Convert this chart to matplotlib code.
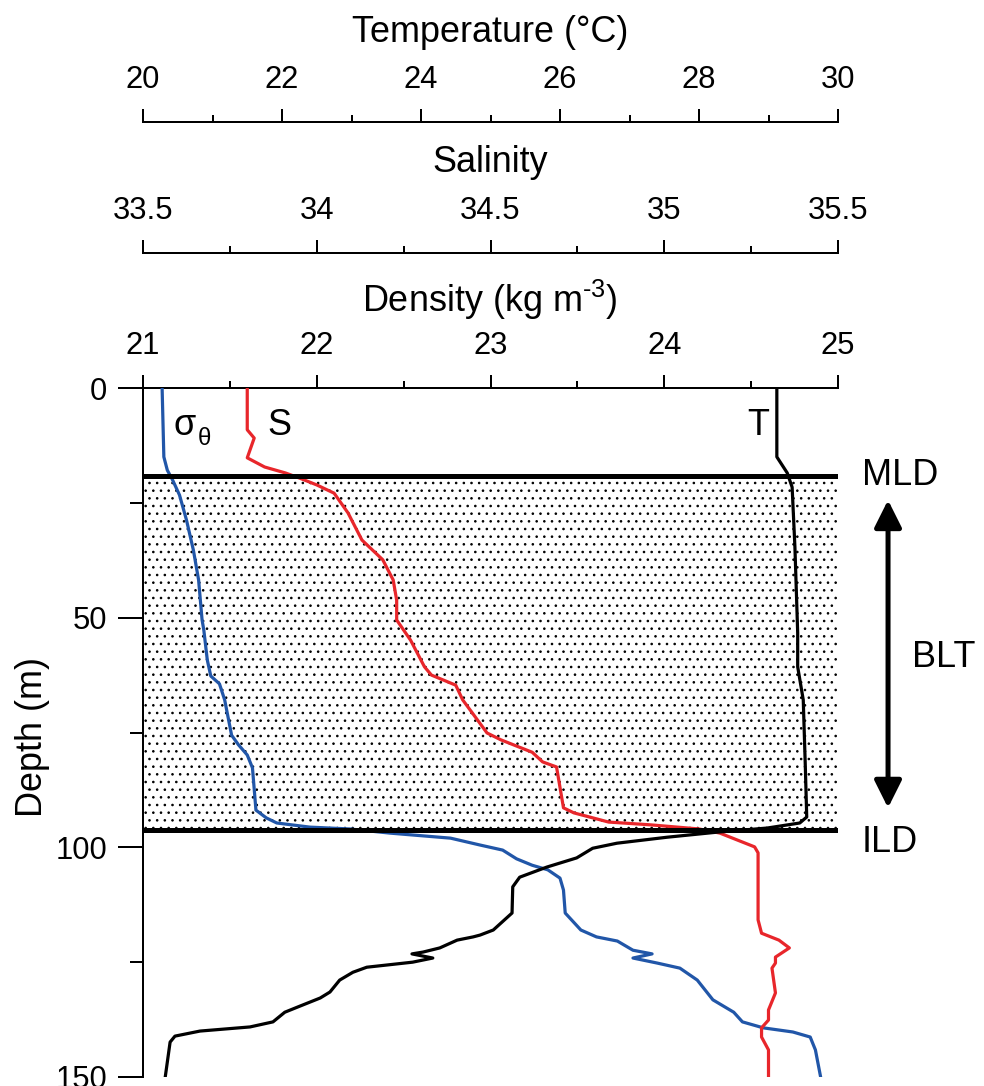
import matplotlib
matplotlib.use('Agg')
import matplotlib.pyplot as plt
from matplotlib.ticker import FixedLocator, FixedFormatter

DPI = 92
W_PX, H_PX = 984, 1086


def pt(px):
    return px * 72.0 / DPI


plt.rcParams['font.family'] = ['Liberation Sans', 'DejaVu Sans']
plt.rcParams['mathtext.fontset'] = 'custom'
plt.rcParams['mathtext.rm'] = 'Liberation Sans'
plt.rcParams['mathtext.it'] = 'Liberation Sans:italic'
plt.rcParams['hatch.linewidth'] = 0.8
plt.rcParams['hatch.color'] = 'black'

# ---------------- data ----------------
depth_sigma = [0, 15.0, 17.9, 20.0, 23.3, 28.7, 35.3, 41.8, 50.5, 52.7,
               59.2, 62.7, 64.4, 67.9, 75.6, 77.7, 79.9, 82.7, 91.9, 93.6,
               94.7, 95.6, 96.0, 96.9, 98.0, 99.5, 100.6, 102.5, 103.9, 104.9,
               106.7, 109.3, 114.3, 118.0, 119.5, 120.4, 122.4, 123.2, 124.1, 125.2,
               126.3, 128.9, 133.2, 135.9, 138.0, 139.3, 140.2, 141.3, 144.1, 150.0]
sigma = [21.11, 21.12, 21.14, 21.17, 21.21, 21.25, 21.29, 21.32, 21.34, 21.35,
         21.37, 21.39, 21.44, 21.47, 21.51, 21.55, 21.60, 21.63, 21.65, 21.71,
         21.77, 21.96, 22.19, 22.42, 22.77, 22.94, 23.07, 23.15, 23.24, 23.33,
         23.40, 23.42, 23.43, 23.52, 23.61, 23.73, 23.82, 23.93, 23.82, 23.96,
         24.09, 24.19, 24.28, 24.40, 24.45, 24.57, 24.74, 24.84, 24.87, 24.90]

depth_sal = [0, 9.1, 10.9, 15.2, 17.2, 18.5, 19.6, 21.1, 22.9, 27.2,
             33.1, 37.4, 41.8, 46.2, 50.5, 54.9, 60.7, 62.5, 64.7, 67.9,
             75.1, 76.6, 79.3, 81.4, 82.5, 91.4, 92.5, 94.5, 95.1, 96.0,
             96.9, 99.9, 101.2, 115.8, 118.7, 120.2, 121.9, 123.9, 125.2, 126.3,
             131.7, 135.4, 137.6, 139.3, 141.3, 144.1, 150.0]
sal = [33.80, 33.80, 33.82, 33.80, 33.85, 33.91, 33.95, 34.00, 34.05, 34.09,
       34.13, 34.19, 34.22, 34.23, 34.23, 34.27, 34.31, 34.33, 34.40, 34.42,
       34.49, 34.53, 34.62, 34.65, 34.69, 34.71, 34.74, 34.84, 34.96, 35.10,
       35.16, 35.26, 35.27, 35.27, 35.28, 35.33, 35.36, 35.32, 35.32, 35.31,
       35.32, 35.30, 35.30, 35.28, 35.28, 35.30, 35.30]

depth_temp = [0, 9.1, 15.0, 18.5, 21.6, 34.6, 53.3, 60.7, 67.9, 82.5,
              93.4, 94.7, 95.8, 96.7, 97.8, 99.1, 100.2, 102.3, 104.3, 106.5,
              108.6, 114.3, 118.0, 119.1, 119.5, 120.2, 121.9, 122.8, 123.2, 124.1,
              125.0, 126.1, 127.2, 128.9, 131.5, 132.8, 134.8, 135.9, 138.0, 139.1,
              140.0, 141.1, 142.4, 150.0]
temp = [29.12, 29.12, 29.12, 29.27, 29.34, 29.38, 29.42, 29.42, 29.50, 29.53,
        29.55, 29.45, 28.98, 28.26, 27.54, 26.82, 26.47, 26.24, 25.81, 25.42,
        25.32, 25.31, 25.04, 24.85, 24.75, 24.52, 24.27, 24.03, 23.87, 24.17,
        23.88, 23.22, 23.02, 22.83, 22.69, 22.55, 22.22, 22.04, 21.87, 21.54,
        20.82, 20.46, 20.39, 20.32]

mld = 19.2
ild = 96.2

temp_major = [20, 22, 24, 26, 28, 30]
temp_minor = [21, 23, 25, 27, 29]
temp_labels = ['20', '22', '24', '26', '28', '30']
sal_major = [33.5, 34.0, 34.5, 35.0, 35.5]
sal_minor = [33.75, 34.25, 34.75, 35.25]
sal_labels = ['33.5', '34', '34.5', '35', '35.5']
dens_major = [21, 22, 23, 24, 25]
dens_minor = [21.5, 22.5, 23.5, 24.5]
dens_labels = ['21', '22', '23', '24', '25']
depth_major = [0, 50, 100, 150]
depth_minor = [25, 75, 125]
depth_labels = ['0', '50', '100', '150']

BLUE = '#2156a8'
RED = '#e8262b'
BLACK = '#000000'

TICK_FS = pt(31)
TITLE_FS = pt(36)
SPINE_W = pt(2)
CURVE_W = pt(3.2)

# ---------------- figure ----------------
fig = plt.figure(figsize=(W_PX / DPI, H_PX / DPI), dpi=DPI)
L = 143 / W_PX
R = 838 / W_PX
WID = R - L
TOP_PX, BOT_PX = 388, 1077
RECT = [L, 1 - BOT_PX / H_PX, WID, (BOT_PX - TOP_PX) / H_PX]

ax = fig.add_axes(RECT)
ax.set_xlim(dens_major[0], dens_major[-1])
ax.set_ylim(150, 0)
for s in ['right', 'bottom']:
    ax.spines[s].set_visible(False)
for s in ['top', 'left']:
    ax.spines[s].set_linewidth(SPINE_W)
ax.xaxis.set_ticks_position('top')
ax.xaxis.set_major_locator(FixedLocator(dens_major))
ax.xaxis.set_major_formatter(FixedFormatter(dens_labels))
ax.xaxis.set_minor_locator(FixedLocator(dens_minor))
ax.yaxis.set_major_locator(FixedLocator(depth_major))
ax.yaxis.set_major_formatter(FixedFormatter(depth_labels))
ax.yaxis.set_minor_locator(FixedLocator(depth_minor))
ax.tick_params(axis='x', which='major', direction='out', length=pt(13), width=SPINE_W,
               pad=pt(14), labelsize=TICK_FS, top=True, bottom=False,
               labeltop=True, labelbottom=False)
ax.tick_params(axis='x', which='minor', direction='out', length=pt(7), width=SPINE_W,
               top=True, bottom=False)
ax.tick_params(axis='y', which='major', direction='out', length=pt(25), width=SPINE_W,
               pad=pt(11), labelsize=TICK_FS)
ax.tick_params(axis='y', which='minor', direction='out', length=pt(13), width=SPINE_W)

# barrier layer shading
ax.axhspan(mld, ild, facecolor='white', edgecolor='black', hatch='..', linewidth=0, zorder=0)

# density profile
ax.plot(sigma, depth_sigma, color=BLUE, lw=CURVE_W, solid_joinstyle='round', zorder=3)


def overlay(xlim):
    a = fig.add_axes(RECT, label=str(xlim))
    a.set_xlim(xlim)
    a.set_ylim(150, 0)
    a.axis('off')
    a.patch.set_visible(False)
    return a


# salinity profile
ax_s = overlay((sal_major[0], sal_major[-1]))
ax_s.plot(sal, depth_sal, color=RED, lw=CURVE_W, solid_joinstyle='round', zorder=3)

# temperature profile
ax_t = overlay((temp_major[0], temp_major[-1]))
ax_t.plot(temp, depth_temp, color=BLACK, lw=CURVE_W, solid_joinstyle='round', zorder=3)

# MLD / ILD lines
ax_t.axhline(mld, color='black', lw=pt(5), zorder=5)
ax_t.axhline(ild, color='black', lw=pt(5), zorder=5)

# curve labels
ax.text(21.173, 10.2, '\u03c3', fontsize=TITLE_FS, ha='left', va='baseline')
ax.text(21.317, 12.4, '\u03b8', fontsize=pt(24), ha='left', va='baseline')
ax.text(21.714, 10.2, 'S', fontsize=TITLE_FS, ha='left', va='baseline')
ax.text(24.476, 10.2, 'T', fontsize=TITLE_FS, ha='left', va='baseline')

# right-side annotations
tr = ax.get_yaxis_transform()  # x in axes fraction, y in data
ax.text(1.0345, 21.1, 'MLD', transform=tr, fontsize=TITLE_FS, ha='left', va='baseline', clip_on=False)
ax.text(1.0345, 101.0, 'ILD', transform=tr, fontsize=TITLE_FS, ha='left', va='baseline', clip_on=False)
ax.text(1.1065, 60.7, 'BLT', transform=tr, fontsize=TITLE_FS, ha='left', va='baseline', clip_on=False)
ax.annotate('', xy=(1.072, 24.4), xytext=(1.072, 91.4),
            xycoords=('axes fraction', 'data'), textcoords=('axes fraction', 'data'),
            annotation_clip=False,
            arrowprops=dict(arrowstyle='<|-|>,head_length=0.9,head_width=0.45',
                            mutation_scale=20, lw=pt(5), color='black',
                            shrinkA=0, shrinkB=0))


# ---------------- top axes ----------------
def top_axis(y_px, lim, major, minor, labels):
    a = fig.add_axes([L, 1 - y_px / H_PX, WID, 1e-6])
    a.set_xlim(lim)
    a.patch.set_visible(False)
    for s in ['right', 'bottom', 'left']:
        a.spines[s].set_visible(False)
    a.spines['top'].set_linewidth(SPINE_W)
    a.set_yticks([])
    a.xaxis.set_ticks_position('top')
    a.xaxis.set_major_locator(FixedLocator(major))
    a.xaxis.set_major_formatter(FixedFormatter(labels))
    a.xaxis.set_minor_locator(FixedLocator(minor))
    a.tick_params(axis='x', which='major', direction='out', length=pt(13), width=SPINE_W,
                  pad=pt(14), labelsize=TICK_FS)
    a.tick_params(axis='x', which='minor', direction='out', length=pt(7), width=SPINE_W)
    return a


top_axis(122, (temp_major[0], temp_major[-1]), temp_major, temp_minor, temp_labels)
top_axis(253, (sal_major[0], sal_major[-1]), sal_major, sal_minor, sal_labels)

xc = 490 / W_PX
fig.text(xc, 1 - 32.5 / H_PX, 'Temperature (\u00b0C)', fontsize=TITLE_FS, ha='center', va='center')
fig.text(xc, 1 - 163 / H_PX, 'Salinity', fontsize=TITLE_FS, ha='center', va='center')
fig.text(xc, 1 - 300 / H_PX, r'Density (kg m$^{\text{-3}}$)', fontsize=TITLE_FS,
         ha='center', va='center')
fig.text(32 / W_PX, 1 - 737 / H_PX, 'Depth (m)', fontsize=TITLE_FS, rotation=90,
         ha='center', va='center')

fig.savefig('out.png', dpi=DPI, facecolor='white')
